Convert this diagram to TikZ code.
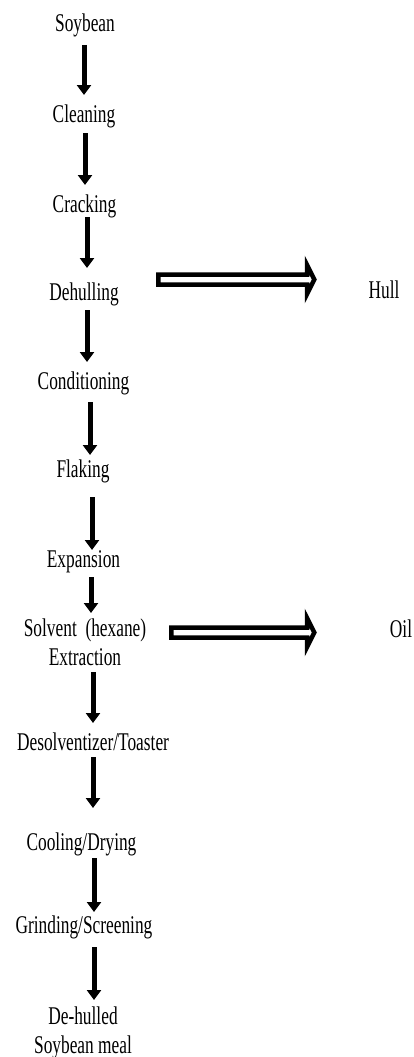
\documentclass[tikz,border=0pt]{standalone}
\usepackage{fontspec}
\setmainfont{Liberation Serif}[FakeStretch=0.68]
\usetikzlibrary{calc,arrows.meta}
\tikzset{
  lbl/.style={inner sep=0pt, anchor=base, font=\fontsize{25.5}{29}\selectfont, text=black},
  downarrow/.style={draw=black, line width=5pt, -{Triangle[width=14pt,length=10pt]}},
  blockarrow/.style={draw=black, fill=white, line width=4.5pt, line join=miter,
    to path={let \p1=(\tikztostart), \p2=(\tikztotarget) in
      (\x1+2.3pt,\y1+5pt) -- (\x2-10pt,\y1+5pt) -- (\x2-10pt,\y1+14.5pt) --
      (\x2-2.7pt,\y1) -- (\x2-10pt,\y1-14.5pt) -- (\x2-10pt,\y1-5pt) --
      (\x1+2.3pt,\y1-5pt) -- cycle}}
}
\begin{document}
\begin{tikzpicture}[x=1pt,y=-1pt]
\path[use as bounding box, fill=white] (0,0) rectangle (414,1057);
% steps
\node[lbl] (s1) at (85,32) {Soybean};
\node[lbl] (s2) at (84,122) {Cleaning};
\node[lbl] (s3) at (84.5,212) {Cracking};
\node[lbl] (s4) at (84,300) {Dehulling};
\node[lbl] (hull) at (384,298) {Hull};
\node[lbl] (s5) at (83.5,389) {Conditioning};
\node[lbl] (s6) at (83,477) {Flaking};
\node[lbl] (s7) at (83.5,567) {Expansion};
\node[lbl, align=center] (s8) at (85,665) {Solvent\ \ (hexane)\\Extraction};
\node[lbl] (oil) at (401,637) {Oil};
\node[lbl] (s9) at (93,750) {Desolventizer/Toaster};
\node[lbl] (s10) at (81.5,850) {Cooling/Drying};
\node[lbl] (s11) at (84,933) {Grinding/Screening};
\node[lbl, align=center] (s12) at (83,1053) {De-hulled\\Soybean meal};
% flow arrows
\draw[downarrow] ($(s1.base)+(-1,13)$) -- ($(s2.base)+(0,-27)$);
\draw[downarrow] ($(s2.base)+(1,11)$) -- ($(s3.base)+(0.5,-27)$);
\draw[downarrow] ($(s3.base)+(2.5,5)$) -- ($(s4.base)+(3,-32)$);
\draw[downarrow] ($(s4.base)+(3,10)$) -- ($(s5.base)+(3.5,-27)$);
\draw[downarrow] ($(s5.base)+(6.5,13)$) -- ($(s6.base)+(7,-22)$);
\draw[downarrow] ($(s6.base)+(9,20)$) -- ($(s7.base)+(8.5,-17)$);
\draw[downarrow] ($(s7.base)+(7.5,10)$) -- ($(s8.base)+(6,-52)$);
\draw[downarrow] ($(s8.base)+(8,7)$) -- ($(s9.base)+(0,-27)$);
\draw[downarrow] ($(s9.base)+(0,7)$) -- ($(s10.base)+(11.5,-42)$);
\draw[downarrow] ($(s10.base)+(12.5,8)$) -- ($(s11.base)+(10,-21)$);
\draw[downarrow] ($(s11.base)+(10,14)$) -- ($(s12.base)+(11,-53)$);
% side streams
\path[blockarrow] ($(s4.base)+(72,-20.5)$) to ($(hull.base)+(-67,-18.5)$);
\path[blockarrow] ($(s8.base)+(84,-32.5)$) to ($(oil.base)+(-84,-4.5)$);
\end{tikzpicture}
\end{document}
